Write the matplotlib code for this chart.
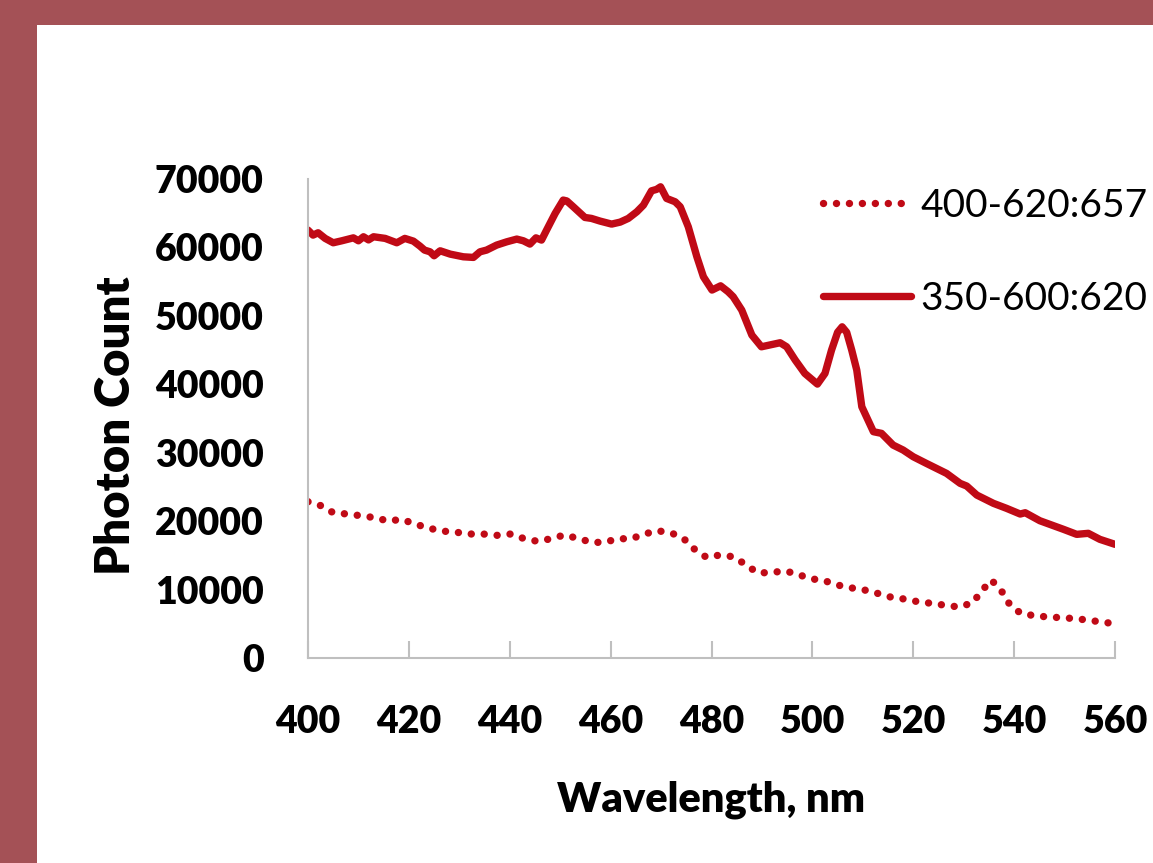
import matplotlib
matplotlib.use('Agg')

import matplotlib.pyplot as plt
from matplotlib.patches import Rectangle

# --- data ---
wl_solid = [400, 401, 402, 403.4, 405, 406.7, 409, 410, 411, 412, 413, 415.3, 417.6, 419.2,
            420.9, 422.2, 423.1, 424.2, 425, 426.2, 428.2, 430.8, 432.8, 434.1, 435.4, 437.4,
            439.4, 441.4, 442.7, 444, 445.2, 446.3, 447.3, 449, 450.6, 451.3, 452.6, 454.9,
            456.2, 457.9, 460.2, 461.9, 463.5, 465.2, 466.5, 468.1, 469.1, 469.9, 471.1,
            472.8, 473.8, 475.4, 477.1, 478.4, 480.1, 481.8, 483.3, 484.3, 486, 488, 489.9,
            493.6, 494.9, 496.6, 498.5, 501, 502.5, 503.8, 505.0, 505.9, 506.8, 507.8, 508.8,
            509.8, 512.1, 513.7, 516, 518, 520, 522.6, 526.6, 529.3, 530.6, 532.6, 535.9,
            538.5, 541.2, 542.2, 545.1, 549.8, 552.4, 554.7, 557, 560]
ph_solid = [62530, 61800, 62140, 61320, 60680, 60970, 61400, 60970, 61560, 61100, 61560, 61320,
            60680, 61320, 60920, 60190, 59610, 59360, 58780, 59510, 59020, 58630, 58540, 59360,
            59610, 60340, 60820, 61220, 60970, 60490, 61400, 61070, 62530, 64970, 66920, 66800,
            65940, 64380, 64240, 63850, 63410, 63700, 64240, 65210, 66180, 68270, 68480, 68860,
            67160, 66670, 65940, 63010, 58630, 55710, 53770, 54390, 53520, 52790, 50840, 47190,
            45480, 46070, 45480, 43540, 41590, 40030, 41590, 45000, 47600, 48400, 47600, 45000,
            42080, 36720, 33070, 32830, 31120, 30390, 29410, 28440, 26980, 25520, 25130, 23810,
            22600, 21870, 21040, 21230, 20060, 18800, 18070, 18220, 17340, 16610]

wl_dot = [400, 402.6, 405, 407.8, 410.5, 413.3, 415.9, 418.6, 421.2, 423.9, 426.5, 429.1,
          431.9, 434.7, 437.5, 440.2, 442.9, 445.5, 448.2, 450.8, 453.5, 456.2, 458.7, 461.5,
          464.1, 466.7, 469.3, 472.1, 474.5, 476.6, 479, 481.7, 484.3, 486.7, 489.1, 491.8,
          494.4, 497, 499.5, 502.2, 504.7, 507.5, 510.1, 512.9, 515.5, 518.2, 520.9, 523.6,
          526.4, 529.1, 531.8, 533.6, 535.5, 537.5, 539.1, 541.3, 544, 546.8, 549.5, 552.3,
          554.9, 557.7, 560]
ph_dot = [22840, 22250, 21230, 21040, 20790, 20500, 20020, 20260, 19580, 18990, 18550, 18410,
          18120, 18120, 17930, 18120, 17430, 17050, 17430, 17970, 17490, 16900, 16900, 17430,
          17430, 18120, 18600, 18260, 17430, 15920, 14710, 15050, 14800, 13690, 12460, 12460,
          12750, 12270, 11590, 11350, 10710, 10270, 9980, 9450, 8910, 8620, 8230, 7990,
          7700, 7450, 8080, 9830, 11400, 9790, 7850, 6530, 6180, 5990, 5890, 5740,
          5510, 5220, 5010]

labels = ['400-620:657', '350-600:620']
x_ticks = [400, 420, 440, 460, 480, 500, 520, 540, 560]
y_ticks = [0, 10000, 20000, 30000, 40000, 50000, 60000, 70000]

red = '#C00A16'
grey = '#BFBFBF'

plt.rcParams['font.family'] = ['Lato', 'DejaVu Sans']

fig = plt.figure(figsize=(11.53, 8.63), dpi=100)
fig.patch.set_facecolor('#A45156')
# white slide panel
fig.patches.append(Rectangle((37 / 1153, 0), 1 - 37 / 1153, 1 - 25 / 863,
                             transform=fig.transFigure, facecolor='white',
                             edgecolor='none', zorder=-10))

ax = fig.add_axes([308 / 1153, 1 - 658 / 863, 807 / 1153, 479 / 863])
ax.set_facecolor('none')
ax.set_zorder(5)

ln_dot, = ax.plot(wl_dot, ph_dot, color=red, lw=5.3, linestyle=(0, (0.01, 1.75)),
                  dash_capstyle='round', label=labels[0])
ln_sol, = ax.plot(wl_solid, ph_solid, color=red, lw=5.3, solid_capstyle='round',
                  solid_joinstyle='round', label=labels[1])

ax.set_xlim(400, 560)
ax.set_ylim(0, 70000)
ax.set_xticks(x_ticks)
ax.set_yticks(y_ticks)

for s in ['top', 'right']:
    ax.spines[s].set_visible(False)
for s in ['left', 'bottom']:
    ax.spines[s].set_color(grey)
    ax.spines[s].set_linewidth(1.5)

ax.tick_params(axis='x', direction='in', length=12, width=1.5, color=grey, pad=34,
               labelsize=27)
ax.tick_params(axis='y', length=0, pad=32, labelsize=27)
for t in ax.get_xticklabels() + ax.get_yticklabels():
    t.set_fontweight('heavy')

ax.set_xlabel('Wavelength, nm', fontsize=30, fontweight='heavy')
ax.set_ylabel('Photon Count', fontsize=34, fontweight='heavy')
ax.xaxis.set_label_coords(0.5, -0.255)
ax.yaxis.set_label_coords(-0.211, 0.486)

ax.legend(handles=[ln_dot, ln_sol], loc='upper left', frameon=False,
          bbox_to_anchor=(823 / 1153, 1 - 188 / 863), bbox_transform=fig.transFigure,
          fontsize=28, handlelength=2.25, handletextpad=0.25, labelspacing=1.46,
          borderpad=0, borderaxespad=0)

fig.savefig('out.png', dpi=100, facecolor=fig.get_facecolor())
